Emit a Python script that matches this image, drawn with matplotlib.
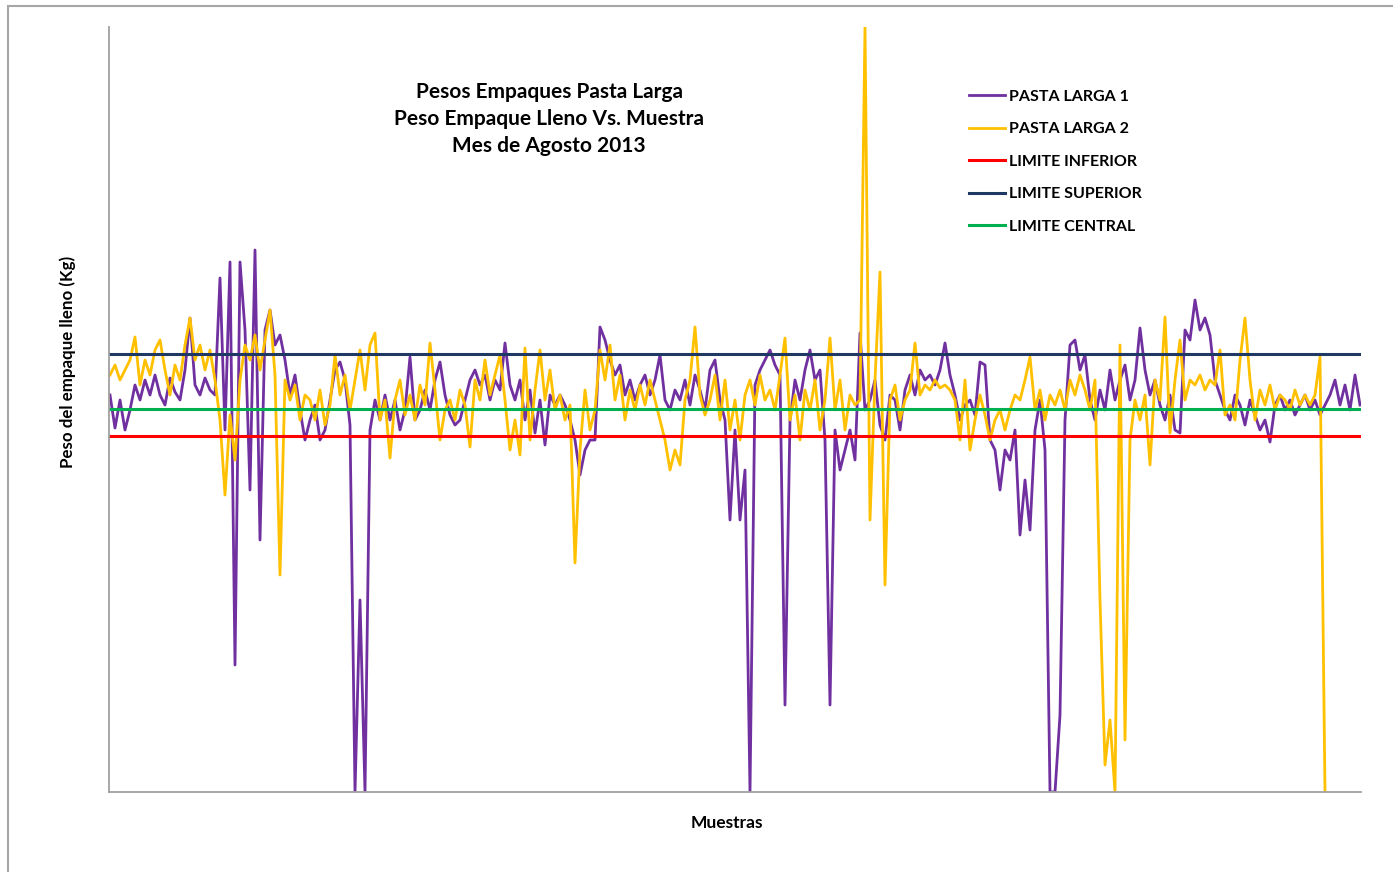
import matplotlib.pyplot as plt
import matplotlib.patches as patches
import numpy as np

# pesos del empaque (unidades relativas de la grafica, sin escala visible)
pastaLarga1 = [
    397, 364, 392, 362, 382, 407, 392, 412, 397, 417,
    397, 387, 414, 400, 392, 422, 474, 407, 397, 414,
    402, 397, 514, 362, 530, 127, 530, 462, 302, 542,
    252, 462, 482, 447, 457, 432, 397, 417, 382, 352,
    372, 387, 352, 362, 392, 422, 430, 412, 367, 0,
    192, 0, 362, 392, 372, 397, 372, 392, 362, 382,
    435, 372, 382, 402, 382, 412, 430, 397, 377, 367,
    372, 392, 412, 422, 407, 417, 392, 412, 402, 449,
    407, 392, 412, 372, 402, 359, 392, 347, 397, 387,
    397, 387, 372, 352, 317, 342, 352, 352, 465, 452,
    432, 417, 427, 397, 412, 392, 407, 417, 397, 412,
    437, 392, 382, 402, 392, 412, 387, 417, 402, 382,
    422, 432, 392, 372, 272, 362, 272, 322, 0, 407,
    422, 432, 442, 427, 417, 87, 372, 412, 392, 422,
    442, 412, 422, 352, 87, 362, 322, 342, 362, 332,
    459, 382, 392, 412, 367, 352, 397, 392, 362, 402,
    417, 397, 422, 412, 417, 407, 422, 449, 417, 397,
    372, 387, 392, 377, 430, 427, 352, 342, 302, 342,
    332, 362, 257, 312, 262, 362, 392, 342, 0, 0,
    77, 372, 447, 452, 422, 437, 392, 372, 402, 382,
    422, 392, 412, 427, 392, 412, 464, 422, 397, 412,
    387, 372, 397, 362, 359, 462, 452, 492, 462, 474,
    457, 412, 397, 382, 372, 397, 387, 367, 392, 377,
    362, 372, 350, 387, 397, 382, 392, 377, 387, 397,
    382, 392, 377, 387, 397, 412, 387, 407, 382, 417,
    387,
]

pastaLarga2 = [
    417, 427, 412, 422, 432, 455, 407, 432, 417, 442,
    452, 422, 397, 427, 412, 447, 474, 432, 447, 422,
    442, 412, 372, 297, 377, 332, 412, 447, 432, 457,
    422, 452, 482, 417, 217, 412, 392, 407, 372, 397,
    392, 372, 402, 367, 387, 437, 397, 417, 382, 412,
    442, 402, 447, 459, 372, 392, 334, 392, 412, 377,
    397, 372, 407, 387, 449, 402, 352, 382, 392, 372,
    402, 387, 345, 412, 392, 432, 397, 417, 437, 392,
    342, 372, 337, 444, 352, 402, 442, 392, 422, 382,
    397, 372, 387, 229, 342, 402, 362, 382, 442, 412,
    447, 392, 417, 372, 402, 382, 407, 387, 412, 392,
    372, 352, 322, 342, 327, 392, 412, 465, 397, 377,
    392, 417, 372, 412, 362, 392, 352, 397, 412, 387,
    417, 392, 402, 382, 417, 454, 372, 397, 352, 402,
    382, 412, 362, 392, 454, 382, 412, 362, 397, 387,
    392, 765, 272, 412, 520, 207, 392, 407, 372, 392,
    402, 449, 397, 407, 402, 412, 404, 407, 402, 392,
    352, 412, 342, 372, 397, 377, 352, 372, 382, 362,
    382, 397, 392, 412, 435, 382, 402, 372, 397, 387,
    402, 382, 412, 397, 417, 402, 382, 412, 192, 27,
    72, 0, 447, 52, 352, 392, 372, 397, 327, 412,
    392, 475, 359, 412, 452, 392, 412, 407, 417, 402,
    412, 407, 442, 377, 387, 372, 432, 474, 412, 372,
    402, 387, 407, 382, 397, 392, 382, 402, 387, 397,
    387, 397, 435, 0,
]

limiteInferior = 356
limiteSuperior = 438
limiteCentral = 383

font = 'Lato'

fig = plt.figure(figsize=(13.93, 8.72), dpi=100)
ax = fig.add_axes([109 / 1393, 80 / 872, 1252 / 1393, 765 / 872])

x1 = np.arange(len(pastaLarga1))
x2 = np.arange(len(pastaLarga2))

ax.plot(x1, pastaLarga1, color='#7030A0', lw=2.0, label='PASTA LARGA 1')
ax.plot(x2, pastaLarga2, color='#FFC000', lw=2.0, label='PASTA LARGA 2')
ax.axhline(limiteInferior, color='#FF0000', lw=2.2, label='LIMITE INFERIOR')
ax.axhline(limiteSuperior, color='#1F3864', lw=2.2, label='LIMITE SUPERIOR')
ax.axhline(limiteCentral, color='#00B050', lw=2.2, label='LIMITE CENTRAL')

ax.set_xlim(-0.2, len(pastaLarga1) - 1 + 0.2)
ax.set_ylim(0, 765)
ax.set_xticks([])
ax.set_yticks([])
for s in ['top', 'right']:
    ax.spines[s].set_visible(False)
for s in ['left', 'bottom']:
    ax.spines[s].set_color('#A0A0A0')
    ax.spines[s].set_linewidth(1.3)

fig.text(549 / 1393, 1 - 119 / 872,
         'Pesos Empaques Pasta Larga\nPeso Empaque Lleno Vs. Muestra\nMes de Agosto 2013',
         ha='center', va='center', fontsize=15, fontweight='bold', family=font,
         linespacing=1.45)

fig.text(68 / 1393, 1 - 362 / 872, 'Peso del empaque lleno (Kg)', rotation=90,
         ha='center', va='center', fontsize=12.2, fontweight='bold', family=font)
fig.text(727 / 1393, 1 - 823 / 872, 'Muestras',
         ha='center', va='center', fontsize=12.5, fontweight='bold', family=font)

leg = ax.legend(loc='upper left', bbox_to_anchor=(955 / 1393, 1 - 75 / 872),
                bbox_transform=fig.transFigure, frameon=False,
                prop={'family': font, 'weight': 'bold', 'size': 11.5},
                handlelength=2.2, handletextpad=0.3, labelspacing=1.15)

# marco exterior del grafico
fig.patches.append(patches.Rectangle((7.5 / 1393, -0.1), 1.2, 0.1 + 865.5 / 872,
                                     transform=fig.transFigure, fill=False,
                                     edgecolor='#A6A6A6', lw=1.5))

fig.savefig('out.png', dpi=100)
